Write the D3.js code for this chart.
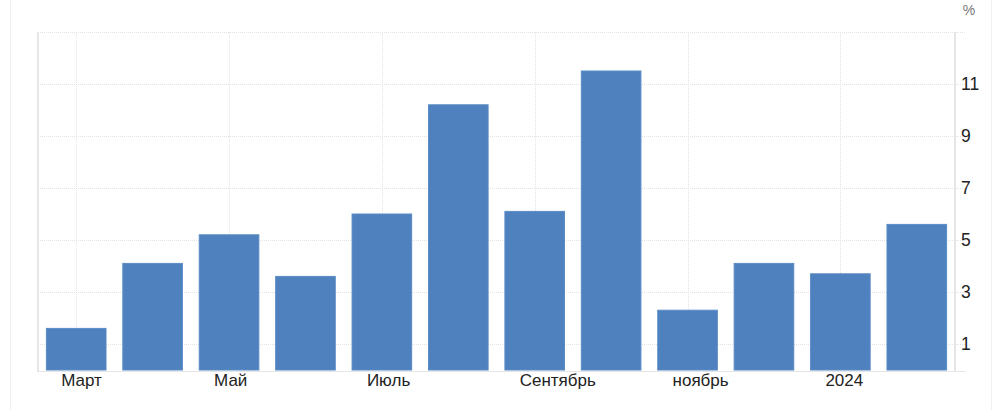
<!DOCTYPE html>
<html>
<head>
<meta charset="utf-8">
<script src="https://cdn.jsdelivr.net/npm/d3@7"></script>
<style>
  body { margin: 0; background: #fff; }
  svg { display: block; font-family: "Liberation Sans", Arial, sans-serif; }
</style>
</head>
<body>
<svg id="chart" width="1000" height="410"></svg>
<script>
// months (one bar each), only some get a label
const months = ["2023-03", "2023-04", "2023-05", "2023-06", "2023-07", "2023-08",
                "2023-09", "2023-10", "2023-11", "2023-12", "2024-01", "2024-02"];
const values = [1.6, 4.1, 5.2, 3.6, 6.0, 10.2, 6.1, 11.5, 2.3, 4.1, 3.7, 5.6];
const xLabels = {"2023-03": "Март", "2023-05": "Май", "2023-07": "Июль",
                 "2023-09": "Сентябрь", "2023-11": "ноябрь", "2024-01": "2024"};
const yTicks = [1, 3, 5, 7, 9, 11];

const BAR_COLOR = "#4e81bd";
const GRID = "#e3e3e3";

const svg = d3.select("#chart");
const margin = { top: 32, right: 45, bottom: 40, left: 38 };
const width = 1000 - margin.left - margin.right;
const height = 410 - margin.top - margin.bottom;

// outer frame lines
svg.append("line").attr("x1", 10.5).attr("x2", 10.5).attr("y1", 0).attr("y2", 410)
    .attr("stroke", "#f0f0f0").attr("stroke-width", 1);
svg.append("line").attr("x1", 991.5).attr("x2", 991.5).attr("y1", 0).attr("y2", 410)
    .attr("stroke", "#f0f0f0").attr("stroke-width", 1);

const g = svg.append("g").attr("transform", `translate(${margin.left},${margin.top})`);

const x = d3.scaleBand().domain(months).range([0, width]).paddingInner(0.22).paddingOuter(0.11);
const y = d3.scaleLinear().domain([0, 13]).range([height, 0]);

// horizontal grid (dotted)
g.selectAll("line.hgrid")
    .data(yTicks.concat([13]))
    .enter().append("line")
    .attr("class", "hgrid")
    .attr("x1", 0).attr("x2", width + 10)
    .attr("y1", d => Math.round(y(d)) + 0.5).attr("y2", d => Math.round(y(d)) + 0.5)
    .attr("stroke", GRID).attr("stroke-dasharray", "1,1");

// vertical grid at labelled months
g.selectAll("line.vgrid")
    .data(months.filter(m => xLabels[m]))
    .enter().append("line")
    .attr("class", "vgrid")
    .attr("x1", d => Math.round(x(d) + x.bandwidth() / 2) + 0.5)
    .attr("x2", d => Math.round(x(d) + x.bandwidth() / 2) + 0.5)
    .attr("y1", 0).attr("y2", height)
    .attr("stroke", GRID).attr("stroke-dasharray", "1,1");

// plot borders
g.append("line").attr("x1", 0).attr("x2", 0).attr("y1", 0).attr("y2", height + 2)
    .attr("stroke", "#e6e6e6").attr("stroke-width", 2);
g.append("line").attr("x1", width).attr("x2", width).attr("y1", 0).attr("y2", height + 2)
    .attr("stroke", "#e6e6e6").attr("stroke-width", 2);
g.append("line").attr("x1", 0).attr("x2", width + 10).attr("y1", height + 1.5).attr("y2", height + 1.5)
    .attr("stroke", "#e6e6e6").attr("stroke-width", 1);

// bars
g.selectAll("rect.bar")
    .data(values)
    .enter().append("rect")
    .attr("class", "bar")
    .attr("x", (d, i) => x(months[i]))
    .attr("width", x.bandwidth())
    .attr("y", d => y(d))
    .attr("height", d => y(0) - y(d))
    .attr("fill", BAR_COLOR)
    .attr("stroke", "#5a8cc6").attr("stroke-width", 1);

// y axis on the right
const yAxis = d3.axisRight(y).tickValues(yTicks).tickSize(0).tickPadding(6).tickFormat(d3.format("d"));
const ya = g.append("g").attr("transform", `translate(${width},0)`).call(yAxis);
ya.select(".domain").remove();
ya.selectAll("text").attr("font-size", 17.5).attr("fill", "#222").attr("font-family", "Liberation Sans, Arial, sans-serif");

// x axis labels - the source starts each label a bit left of the bar centre
const xAxis = d3.axisBottom(x).tickValues(months.filter(m => xLabels[m]))
    .tickFormat(m => xLabels[m]).tickSize(0).tickPadding(4);
const xa = g.append("g").attr("transform", `translate(0,${height})`).call(xAxis);
xa.select(".domain").remove();
xa.selectAll("text")
    .attr("font-size", 17).attr("fill", "#222").attr("font-family", "Liberation Sans, Arial, sans-serif")
    .attr("text-anchor", "start").attr("dx", -15);

// unit label
svg.append("text").attr("x", 969).attr("y", 15).attr("text-anchor", "middle")
    .attr("font-size", 14).attr("fill", "#777").text("%");
</script>
</body>
</html>
